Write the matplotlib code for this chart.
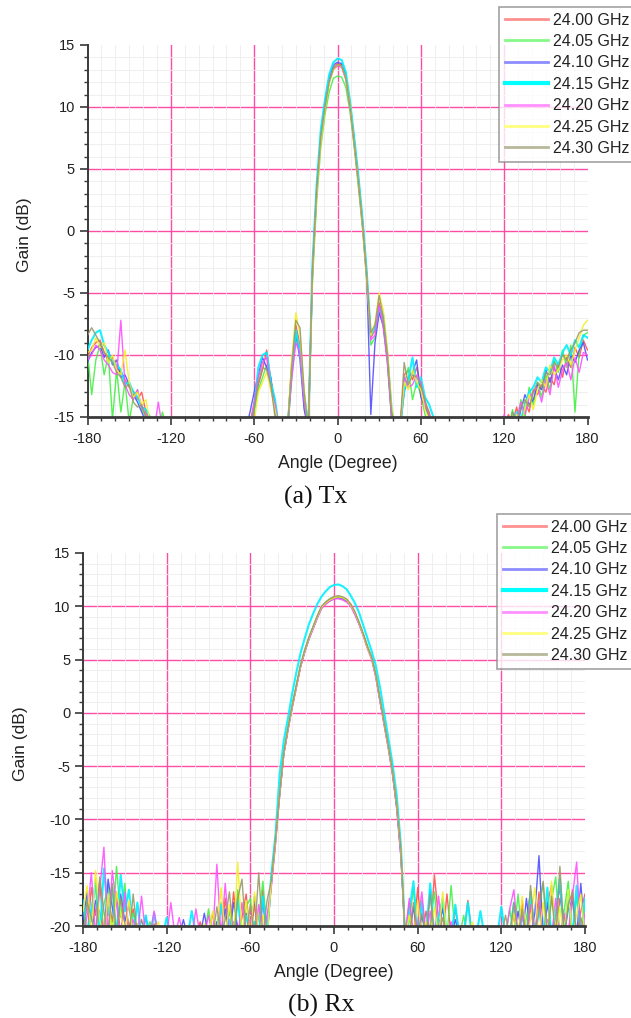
import matplotlib
matplotlib.use("Agg")
import matplotlib.pyplot as plt
from matplotlib.ticker import MultipleLocator

plt.rcParams["axes.unicode_minus"] = False

# ---------------- data ----------------
angles = list(range(-180, 181, 3))
freq_labels = ["24.00 GHz", "24.05 GHz", "24.10 GHz", "24.15 GHz",
               "24.20 GHz", "24.25 GHz", "24.30 GHz"]
x_ticks = [-180, -120, -60, 0, 60, 120, 180]
tx_y_ticks = [-15, -10, -5, 0, 5, 10, 15]
rx_y_ticks = [-20, -15, -10, -5, 0, 5, 10, 15]

F = -16  # below the Tx axis
tx_2400 = [-10.2, -9.4, -9.0, -8.8, -9.8, -10.5, -10.2, -11.0, -11.4, -12.0,
           -12.6, -12.9, -13.6, -13.0, -14.6, -15.2, F, F, F, F,
           F, F, F, F, F, F, F, F, F, F,
           F, F, F, F, F, F, F, F, F, -15.5,
           -13.8, -12.4, -11.2, -9.6, -12.0, -13.8, F, F, F, -10.6,
           -7.6, -9.2, -13.6, -15.6, -3.0, 3.4, 7.6, 10.2, 12.1, 13.2,
           13.5, 13.4, 12.4, 10.1, 7.2, 4.1, 0.6, -3.6, -8.6, -8.0,
           -5.8, -7.2, -9.8, -14.8, F, F, -11.6, -11.2, -12.0, -11.0,
           -12.6, -13.8, -14.6, F, F, F, F, F, F, F,
           F, F, F, F, F, F, F, F, F, F,
           F, -14.8, -15.4, -14.2, F, -13.8, -14.6, -12.8, -13.2, -12.4,
           -13.0, -11.8, -12.4, -10.6, -11.8, -10.2, -11.0, -9.4, -10.2, -8.8,
           -9.6]
tx_2405 = [-9.8, -13.2, -10.4, -9.2, -11.6, -10.0, -15.2, -11.2, -14.6, -12.2,
           -15.4, -13.4, -12.8, -14.4, -15.0, F, F, F, -14.6, F,
           F, F, F, F, F, F, F, F, F, F,
           F, F, F, F, F, F, F, F, F, F,
           -14.6, -12.8, -11.8, -10.8, -12.6, -14.2, F, F, F, -11.8,
           -8.6, -9.6, -14.2, F, -4.0, 2.4, 6.8, 9.4, 11.2, 12.3,
           12.5, 12.4, 11.6, 9.6, 6.8, 3.6, 0.2, -4.0, -9.2, -8.6,
           -6.4, -7.8, -10.6, -15.4, F, F, -12.4, -11.0, -13.6, -12.2,
           -13.2, -14.8, F, F, F, F, F, F, F, F,
           F, F, F, F, F, F, F, F, F, F,
           -15.2, F, -14.4, F, -13.6, -15.0, -12.6, -14.0, -12.2, -13.4,
           -11.6, -12.8, -10.4, -11.4, -9.6, -11.0, -9.2, -14.6, -9.8, -8.4,
           -8.2]
tx_2410 = [-10.6, -9.8, -9.4, -9.2, -10.2, -9.6, -10.8, -10.4, -11.8, -11.6,
           -12.4, -13.2, -13.8, -14.6, -15.4, F, F, F, F, F,
           F, F, F, F, F, F, F, F, F, F,
           F, F, F, F, F, F, F, F, F, -14.6,
           -13.0, -11.6, -10.2, -11.0, -11.8, -14.6, F, F, F, -11.2,
           -8.2, -10.4, -14.4, F, -3.4, 3.2, 7.8, 10.4, 12.4, 13.4,
           13.6, 13.5, 12.6, 10.3, 7.4, 4.3, 0.8, -3.4, -14.8, -9.0,
           -6.6, -7.6, -10.4, -15.0, F, F, -13.0, -11.8, -11.4, -10.4,
           -13.4, -14.2, -15.0, F, F, F, F, F, F, F,
           F, F, F, F, F, F, F, F, F, F,
           F, F, -15.0, F, -14.4, -13.2, -14.0, -13.6, -12.4, -12.8,
           -11.2, -12.2, -11.0, -12.0, -10.8, -11.6, -10.0, -10.6, -9.6, -9.0,
           -10.4]
tx_2415 = [-9.6, -8.8, -8.2, -8.0, -9.2, -9.8, -10.6, -10.8, -11.2, -12.4,
           -12.2, -13.0, -13.4, -14.2, -14.4, -15.0, F, F, F, F,
           F, F, F, F, F, F, F, F, F, F,
           F, F, F, F, F, F, F, F, F, F,
           -14.2, -11.0, -10.0, -9.8, -12.2, -13.6, F, F, F, -11.4,
           -8.0, -9.8, -13.2, -15.8, -2.6, 3.8, 8.2, 10.6, 12.6, 13.6,
           13.9, 13.8, 12.8, 10.5, 7.6, 4.5, 1.0, -3.2, -8.4, -7.8,
           -6.2, -6.8, -10.2, -14.4, F, F, -12.8, -12.0, -10.2, -12.6,
           -11.8, -13.4, -14.0, -15.0, F, F, F, F, F, F,
           F, F, F, F, F, F, F, F, F, F,
           F, F, F, -14.6, -15.2, -14.0, -13.0, -12.6, -11.8, -12.2,
           -11.0, -11.4, -10.2, -10.8, -9.8, -9.2, -10.0, -8.8, -9.4, -8.4,
           -8.6]
tx_2420 = [-10.4, -10.0, -9.2, -9.6, -10.4, -10.8, -11.4, -11.6, -7.2, -12.4,
           -13.2, -13.6, -12.8, -14.2, -14.8, F, F, -13.8, F, F,
           F, F, F, F, F, F, F, F, F, F,
           F, F, F, F, F, F, F, F, F, -15.8,
           -14.0, -11.8, -10.6, -10.2, -12.8, -14.0, F, F, F, -12.0,
           -9.0, -9.8, -13.8, F, -3.2, 3.0, 7.4, 10.0, 12.0, 13.0,
           13.3, 13.2, 12.2, 10.0, 7.0, 3.9, 0.4, -3.8, -8.8, -8.4,
           -6.0, -7.8, -10.8, -15.2, F, F, -11.8, -12.6, -12.4, -11.6,
           -12.2, -14.0, -14.8, F, F, F, F, F, F, F,
           F, F, F, F, F, F, F, F, F, F,
           -14.8, F, F, -15.2, -13.8, -14.8, -13.4, -13.0, -12.6, -13.8,
           -12.0, -13.2, -10.8, -12.6, -11.2, -10.6, -12.0, -10.2, -11.4, -9.8,
           -10.0]
tx_2425 = [-9.8, -9.6, -8.6, -9.4, -9.0, -10.6, -10.0, -11.2, -11.6, -9.6,
           -12.2, -13.4, -13.0, -14.0, -13.6, -15.4, F, F, F, F,
           F, F, F, F, F, F, F, F, F, F,
           F, F, F, F, F, F, F, F, F, F,
           -15.4, -13.0, -12.2, -11.4, -12.8, -14.4, F, F, F, -10.4,
           -6.6, -8.4, -12.8, F, -3.6, 2.8, 7.2, 9.8, 11.9, 13.0,
           13.4, 13.3, 12.3, 10.2, 7.1, 4.0, 0.5, -3.7, -8.4, -7.4,
           -5.0, -6.4, -9.6, -14.2, F, F, -12.2, -12.8, -11.2, -12.2,
           -12.8, -14.4, -15.2, F, F, F, F, F, F, F,
           F, F, F, F, F, F, F, F, F, F,
           F, -15.6, F, -14.8, F, -14.2, -13.2, -14.4, -12.8, -12.0,
           -12.6, -10.8, -11.6, -11.2, -10.4, -10.0, -10.8, -9.6, -8.6, -7.6,
           -7.2]
tx_2430 = [-8.4, -7.8, -8.4, -9.0, -9.8, -10.2, -10.6, -11.4, -11.8, -12.6,
           -12.4, -13.8, -14.2, -14.0, -15.0, F, F, F, F, F,
           F, F, F, F, F, F, F, F, F, F,
           F, F, F, F, F, F, F, F, F, F,
           -14.4, -12.2, -11.0, -11.2, -12.4, -15.0, F, F, F, -11.0,
           -7.2, -7.8, -13.0, F, -3.2, 3.2, 7.6, 10.0, 12.0, 13.1,
           13.4, 13.3, 12.3, 10.1, 7.1, 4.0, 0.6, -3.6, -8.2, -7.6,
           -5.2, -7.0, -10.0, -14.6, F, F, -10.6, -12.4, -11.6, -11.8,
           -12.4, -13.6, -15.0, F, F, F, F, F, F, F,
           F, F, F, F, F, F, F, F, F, F,
           F, F, -14.6, F, -14.2, -13.6, -14.2, -13.0, -12.2, -12.6,
           -11.4, -11.6, -10.6, -11.0, -10.0, -10.4, -9.6, -9.0, -8.2, -8.0,
           -8.0]

R = -21  # below the Rx axis
rx_2400 = [-18.2, R, -16.4, -19.0, -15.8, R, -17.2, -19.6, -16.8, R,
           -17.6, -20.2, -18.4, R, -19.4, R, R, -19.8, R, R,
           R, R, R, R, R, R, R, R, -19.6, R,
           R, -18.8, R, R, -17.4, R, -16.8, R, -19.2, -17.0,
           R, -18.0, R, -16.6, -20.4, -16.0, -12.0, -7.6, -3.8, -1.5,
           0.6, 2.5, 4.4, 5.8, 7.0, 8.0, 9.0, 9.9, 10.3, 10.6,
           10.8, 10.9, 10.8, 10.6, 10.2, 9.4, 8.4, 7.4, 6.2, 5.2,
           3.5, 1.2, -1.0, -3.2, -5.6, -8.7, -13.2, R, -17.8, R,
           -16.4, R, -18.6, R, -15.2, -19.4, R, -17.0, R, -18.4,
           R, R, -17.6, R, R, R, R, R, R, R,
           R, R, R, -19.0, R, -17.6, R, -18.2, R, -16.8,
           R, -18.0, -16.2, R, -17.4, -19.0, R, -16.6, R, -18.6,
           -17.0]
rx_2405 = [R, -17.4, -19.6, -15.6, R, -18.0, -16.2, R, -14.4, -19.2,
           -16.0, R, -18.8, -20.4, R, R, -19.6, R, R, R,
           R, R, R, R, R, R, R, R, R, R,
           -18.4, R, -19.8, -17.8, R, -18.6, R, -16.6, R, -18.2,
           -17.4, R, -19.2, -15.8, R, -15.6, -11.8, -7.4, -3.6, -1.4,
           0.7, 2.6, 4.5, 5.9, 7.1, 8.1, 9.1, 9.9, 10.4, 10.7,
           10.9, 10.9, 10.8, 10.6, 10.1, 9.4, 8.5, 7.4, 6.3, 5.2,
           3.6, 1.3, -0.9, -3.1, -5.5, -8.6, -13.0, R, -19.6, -16.4,
           R, -17.6, R, -19.8, -16.8, R, -18.0, R, -16.2, R,
           R, -19.0, R, R, R, R, R, R, R, R,
           R, R, -18.4, R, -17.0, R, -19.2, -16.8, R, -18.0,
           -16.0, R, -17.6, -15.4, R, -18.6, -15.8, R, -17.2, R,
           -18.2]
rx_2410 = [-19.4, -16.8, R, -17.6, -18.8, R, -15.6, -18.2, R, -17.0,
           -19.6, -18.0, R, -19.8, R, -19.2, R, R, R, -20.0,
           R, R, R, R, -19.4, R, R, R, R, -18.8,
           R, R, -19.6, R, -18.4, R, -17.8, -20.2, R, -18.8,
           R, -17.2, R, -17.8, R, -16.2, -12.2, -7.8, -3.9, -1.6,
           0.5, 2.4, 4.3, 5.7, 6.9, 7.9, 8.9, 9.8, 10.2, 10.5,
           10.7, 10.8, 10.7, 10.5, 10.1, 9.3, 8.3, 7.3, 6.1, 5.1,
           3.4, 1.1, -1.1, -3.3, -5.8, -9.0, -13.6, R, R, -18.2,
           R, -19.0, R, -16.6, R, -20.0, -18.4, R, R, -19.4,
           R, R, R, R, R, R, R, R, R, R,
           R, R, R, R, -18.6, R, -17.4, R, -18.8, -13.4,
           R, -17.8, R, -19.0, -16.2, R, -18.4, -17.6, R, -16.0,
           R]
rx_2415 = [-17.6, R, -18.4, -16.0, R, -14.6, -19.0, -16.4, R, -15.2,
           -18.6, -16.6, R, -17.8, R, -19.0, R, -18.8, R, R,
           -19.2, R, R, R, R, R, -18.6, R, R, R,
           R, R, R, -18.0, R, -19.4, R, -17.6, R, -19.0,
           R, -19.6, R, -17.2, R, -15.2, -11.5, -5.8, -2.6, -0.5,
           1.8, 3.8, 5.6, 7.0, 8.3, 9.3, 10.2, 10.9, 11.4, 11.8,
           12.0, 12.05, 11.9, 11.6, 11.0, 10.3, 9.4, 8.2, 7.0, 5.8,
           4.4, 2.4, 0.0, -2.4, -4.8, -7.8, -12.5, R, -18.6, -15.8,
           R, -17.8, R, -16.0, R, -19.2, -17.4, R, R, -18.0,
           R, R, -17.8, R, R, -18.6, R, R, R, R,
           -18.2, R, R, -17.8, R, -19.0, R, -16.8, R, -18.4,
           R, -16.4, R, -18.8, -15.6, R, -17.0, R, -16.2, R,
           -17.4]
rx_2420 = [R, -19.0, -15.0, R, -16.6, -12.6, R, -14.8, -18.0, R,
           -16.8, R, -19.4, R, -17.2, R, R, -18.6, R, R,
           R, -17.8, R, -19.2, R, R, R, -18.4, R, R,
           -19.0, R, -14.2, R, -16.0, R, -19.6, R, -17.8, R,
           -19.4, R, -18.0, R, -19.0, -16.4, -12.4, -7.8, -3.9, -1.6,
           0.5, 2.4, 4.3, 5.7, 6.9, 7.9, 8.9, 9.8, 10.2, 10.5,
           10.7, 10.7, 10.6, 10.4, 10.0, 9.2, 8.3, 7.2, 6.0, 5.0,
           3.3, 1.0, -1.2, -3.4, -5.8, -8.9, -13.4, R, -17.4, R,
           -19.8, -16.8, R, -18.6, R, -17.2, R, R, -19.6, R,
           R, R, R, R, R, R, R, R, R, R,
           R, R, -18.4, -16.6, R, -19.0, R, -18.0, R, -17.6,
           R, -19.4, R, -17.4, R, -18.8, R, -17.2, -14.0, R,
           -18.8]
rx_2425 = [-18.6, -16.2, R, -14.8, -19.4, R, -17.0, R, -16.8, -18.8,
           R, -17.6, R, -19.8, R, R, R, R, -19.6, R,
           R, R, R, R, R, R, R, R, R, -19.8,
           R, -18.6, R, -16.4, R, -18.0, R, -14.0, R, -17.6,
           R, -16.8, R, -19.0, R, -16.0, -12.1, -7.6, -3.8, -1.5,
           0.6, 2.5, 4.4, 5.8, 7.0, 8.0, 9.0, 9.9, 10.3, 10.6,
           10.8, 10.9, 10.8, 10.6, 10.1, 9.4, 8.4, 7.3, 6.1, 5.1,
           3.5, 1.2, -1.0, -3.2, -5.6, -8.7, -13.0, R, -19.0, R,
           -17.6, R, -19.6, R, -18.2, R, -16.8, R, R, R,
           R, R, R, -19.6, R, R, R, R, R, R,
           R, R, R, -18.8, R, -17.2, R, -19.4, -16.4, R,
           -17.8, R, -15.8, R, -18.2, R, -16.6, R, -19.0, -17.0,
           R]
rx_2430 = [R, -17.8, -19.2, R, -15.4, -18.6, R, -16.0, R, -17.4,
           -19.8, R, -17.0, R, R, -20.0, R, R, R, R,
           R, R, R, R, R, R, R, R, R, R,
           R, R, -18.2, R, -19.4, -16.8, R, -17.4, -15.6, R,
           -18.0, R, -15.0, R, -17.6, -15.8, -11.9, -7.5, -3.7, -1.4,
           0.7, 2.6, 4.5, 5.9, 7.1, 8.1, 9.1, 10.0, 10.4, 10.7,
           10.9, 11.0, 10.9, 10.7, 10.2, 9.5, 8.5, 7.4, 6.2, 5.2,
           3.6, 1.3, -0.9, -3.1, -5.5, -8.6, -12.8, R, R, -17.8,
           R, -18.8, R, -17.0, R, R, -19.2, R, R, R,
           R, R, R, R, R, R, R, R, R, R,
           R, -19.0, R, -17.8, R, -18.4, R, -16.2, R, -18.6,
           -15.8, R, -17.2, R, -14.4, R, -18.0, -16.8, R, -19.2,
           R]

tx_series = [tx_2400, tx_2405, tx_2410, tx_2415, tx_2420, tx_2425, tx_2430]
rx_series = [rx_2400, rx_2405, rx_2410, rx_2415, rx_2420, rx_2425, rx_2430]

# ---------------- style ----------------
colors = ["#ff5050", "#44f044", "#5050ff", "#00f0ff", "#ff50ff", "#f4f020", "#9a9a6a"]
legend_colors = ["#ff9090", "#88f888", "#8c8cff", "#00ffff", "#ff90ff", "#ffff80", "#b8b898"]
FONT = "Liberation Sans"
AXC = "#3a3a3a"

W, H = 631, 1018
fig = plt.figure(figsize=(W / 100, H / 100), dpi=100)


def px_rect(l, t, r, b):
    return [l / W, 1 - b / H, (r - l) / W, (b - t) / H]


def draw(rect, series, yticks, leg_xy, caption, cap_xy):
    ax = fig.add_axes(px_rect(*rect))
    for vals, c, lab in zip(series, colors, freq_labels):
        lw = 1.5 if lab == "24.15 GHz" else 1.0
        ax.plot(angles, vals, color=c, lw=lw, label=lab, alpha=0.9, zorder=3)
    ax.set_xlim(x_ticks[0], x_ticks[-1])
    ax.set_ylim(yticks[0], yticks[-1])
    ax.set_xticks(x_ticks)
    ax.set_yticks(yticks)
    ax.xaxis.set_minor_locator(MultipleLocator(10))
    ax.yaxis.set_minor_locator(MultipleLocator(1))
    ax.grid(which="minor", color="#ececec", lw=0.6, zorder=0)
    ax.grid(which="major", visible=False)
    for xv in x_ticks[1:-1]:
        ax.axvline(xv, color="#ff4da6", lw=1.0, zorder=1)
    for yv in yticks[1:-1]:
        ax.axhline(yv, color="#ff4da6", lw=1.0, zorder=1)
    for s in ("top", "right"):
        ax.spines[s].set_visible(False)
    ax.spines["left"].set_color(AXC)
    ax.spines["left"].set_linewidth(1.4)
    ax.spines["bottom"].set_color(AXC)
    ax.spines["bottom"].set_linewidth(2.0)
    ax.spines["bottom"].set_zorder(4)
    ax.tick_params(which="major", length=6, width=1.2, color=AXC,
                   labelsize=10.5, labelcolor="#222222")
    ax.tick_params(which="minor", length=3, width=1.0, color=AXC)
    ax.tick_params(axis="x", pad=5)
    ax.tick_params(axis="y", pad=3)
    for lbl in ax.get_xticklabels() + ax.get_yticklabels():
        lbl.set_family(FONT)
    ax.set_xlabel("Angle (Degree)", family=FONT, fontsize=12.7, color="#222222", labelpad=6)
    ax.set_ylabel("Gain (dB)", family=FONT, fontsize=12.6, color="#222222")
    ax.yaxis.set_label_coords(-0.11, 0.49)
    leg = ax.legend(loc="upper left", bbox_to_anchor=(leg_xy[0] / W, 1 - leg_xy[1] / H),
                    bbox_transform=fig.transFigure, prop={"family": FONT, "size": 11.5},
                    frameon=True, fancybox=False, edgecolor="#8a8a8a",
                    borderpad=0.35, labelspacing=0.4, handlelength=2.7,
                    handletextpad=0.35, borderaxespad=0.0)
    leg.get_frame().set_linewidth(1.2)
    for line, lc, lab in zip(leg.get_lines(), legend_colors, freq_labels):
        line.set_color(lc)
        line.set_alpha(1.0)
        line.set_linewidth(3.0 if lab == "24.15 GHz" else 2.0)
    for t in leg.get_texts():
        t.set_color("#222222")
    fig.text(cap_xy[0] / W, 1 - cap_xy[1] / H, caption, ha="center", va="center",
             family="Liberation Serif", fontsize=18.5, color="#111111")
    return ax


draw((87.5, 45, 587.5, 417), tx_series, tx_y_ticks, (499, 7), "(a) Tx", (316, 497))
draw((83, 553, 585, 926), rx_series, rx_y_ticks, (497, 514), "(b) Rx", (321, 1005))

fig.savefig("out.png", dpi=100)
